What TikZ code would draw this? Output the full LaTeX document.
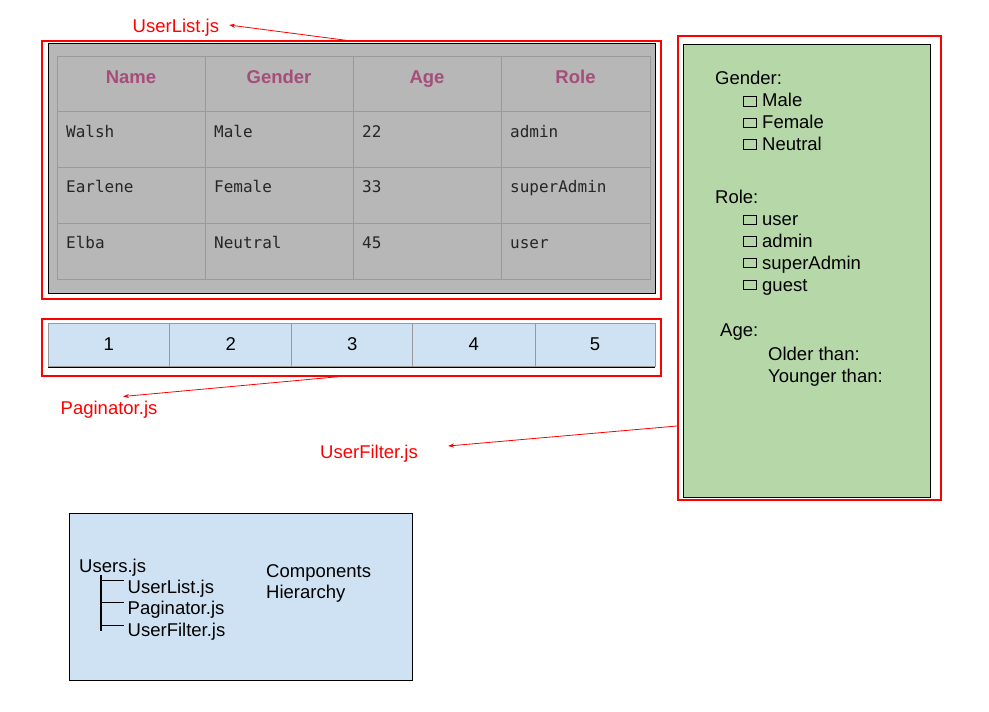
\documentclass[tikz,border=0pt]{standalone}
\usepackage{fontspec}
\setmainfont{Liberation Sans}
\newfontfamily\monof{DejaVu Sans Mono}
\usetikzlibrary{arrows.meta}
\definecolor{tblgray}{HTML}{B7B7B7}
\definecolor{gridgray}{HTML}{999999}
\definecolor{hdrcol}{HTML}{A64D79}
\definecolor{paleblue}{HTML}{CFE2F3}
\definecolor{palegreen}{HTML}{B6D7A8}
\begin{document}
\begin{tikzpicture}[x=1pt,y=-1pt,
  txt/.style={inner sep=0pt, anchor=base west, font=\fontsize{18.5}{21}\selectfont},
  hdr/.style={inner sep=0pt, anchor=base, font=\fontsize{18.5}{21}\selectfont\bfseries, text=hdrcol},
  cell/.style={inner sep=0pt, anchor=base west, font=\monof\fontsize{16}{19}\selectfont, text=black!85},
  num/.style={inner sep=0pt, anchor=base, font=\fontsize{18.5}{21}\selectfont},
  redbox/.style={draw=red, line width=2pt, inner sep=0pt, outer sep=0pt, anchor=north west},
  inbox/.style={draw=black, line width=0.8pt, inner sep=0pt, outer sep=0pt, anchor=north west},
  redlbl/.style={inner sep=0pt, anchor=base west, text=red, font=\fontsize{18.5}{21}\selectfont},
  redarrow/.style={draw=red, line width=0.8pt, -{Stealth[length=6pt,width=4pt]}},
  chk/.style={draw, line width=0.6pt, minimum width=12.5pt, minimum height=9.5pt, inner sep=0pt, anchor=south west},
  grid/.style={draw=gridgray, line width=0.8pt},
]
\useasboundingbox[fill=white] (0,0) rectangle (989,712);

% ---------- UserList table ----------
\node[redbox, minimum width=619pt, minimum height=258pt] (ulBox) at (42,41) {};
\node[inbox, fill=tblgray, minimum width=607pt, minimum height=250pt] (ulIn) at (48,43.5) {};
\draw[grid] (57,56) rectangle (650,279);
\foreach \x in {205,353,501} \draw[grid] (\x,56) -- (\x,279);
\foreach \y in {111,167,223} \draw[grid] (57,\y) -- (650,\y);

\node[hdr] (hName) at (131,83) {Name};
\node[hdr] (hGender) at (279,83) {Gender};
\node[hdr] (hAge) at (427,83) {Age};
\node[hdr] (hRole) at (575.5,83) {Role};

\node[cell] (c11) at (66,137) {Walsh};
\node[cell] (c12) at (214,137) {Male};
\node[cell] (c13) at (362,137) {22};
\node[cell] (c14) at (510,137) {admin};
\node[cell] (c21) at (66,192.5) {Earlene};
\node[cell] (c22) at (214,192.5) {Female};
\node[cell] (c23) at (362,192.5) {33};
\node[cell] (c24) at (510,192.5) {superAdmin};
\node[cell] (c31) at (66,248) {Elba};
\node[cell] (c32) at (214,248) {Neutral};
\node[cell] (c33) at (362,248) {45};
\node[cell] (c34) at (510,248) {user};

% ---------- Paginator ----------
\node[redbox, minimum width=619pt, minimum height=57pt] (pgBox) at (42,318.5) {};
\fill[paleblue] (48,323.5) rectangle (655,367);
\draw[grid] (48,323.5) rectangle (655,366);
\foreach \x in {169.7,291.7,412.7,535} \draw[grid] (\x,323.5) -- (\x,366);
\draw[black, line width=0.8pt] (48,367) -- (655,367);
\node[num] (p1) at (108.8,350) {1};
\node[num] (p2) at (230.7,350) {2};
\node[num] (p3) at (352.2,350) {3};
\node[num] (p4) at (473.8,350) {4};
\node[num] (p5) at (595,350) {5};

% ---------- UserFilter ----------
\node[redbox, minimum width=263pt, minimum height=464pt] (ufBox) at (678,35.5) {};
\node[inbox, fill=palegreen, minimum width=247pt, minimum height=453pt] (ufIn) at (683.5,44) {};
\node[txt] (fGender) at (715,84) {Gender:};
\node[chk] (bMale) at (743,106.5) {};
\node[txt] (fMale) at (762,106) {Male};
\node[chk] (bFemale) at (743,128) {};
\node[txt] (fFemale) at (762,128) {Female};
\node[chk] (bNeutral) at (743,149.5) {};
\node[txt] (fNeutral) at (762,150) {Neutral};
\node[txt] (fRole) at (715,203) {Role:};
\node[chk] (bUser) at (743,225) {};
\node[txt] (fUser) at (762,225) {user};
\node[chk] (bAdmin) at (743,246.5) {};
\node[txt] (fAdmin) at (762,247) {admin};
\node[chk] (bSuper) at (743,268) {};
\node[txt] (fSuper) at (762,269) {superAdmin};
\node[chk] (bGuest) at (743,290) {};
\node[txt] (fGuest) at (762,291) {guest};
\node[txt] (fAge) at (720,336) {Age:};
\node[txt] (fOlder) at (768,360) {Older than:};
\node[txt] (fYounger) at (768,382) {Younger than:};

% ---------- Labels and arrows ----------
\node[redlbl] (lUL) at (132.5,32) {UserList.js};
\node[redlbl] (lPG) at (60.5,414) {Paginator.js};
\node[redlbl] (lUF) at (320,458) {UserFilter.js};
\coordinate (tUL) at (229,25);
\coordinate (tPG) at (123,396.5);
\coordinate (sUF) at (677,426);
\coordinate (tUF) at (448,446);
\draw[redarrow] (ulBox.north) -- (tUL);
\draw[redarrow] (pgBox.south) -- (tPG);
\draw[redarrow] (sUF) -- (tUF);

% ---------- Hierarchy ----------
\node[inbox, fill=paleblue, minimum width=343pt, minimum height=167pt] (hBox) at (69.5,513.5) {};
\node[txt] (hUsers) at (79,572) {Users.js};
\node[txt] (hUL) at (127.5,593) {UserList.js};
\node[txt] (hPG) at (127.5,614.5) {Paginator.js};
\node[txt] (hUF) at (127.5,636) {UserFilter.js};
\node[txt] (hComp) at (266,577) {Components};
\node[txt] (hHier) at (266,598.5) {Hierarchy};
\coordinate (trTop) at (101,575);
\coordinate (trBot) at (101,631);
\draw[line width=1.6pt] (trTop) -- (trBot);
\draw[line width=0.8pt] (101,580.5) -- (123.5,580.5);
\draw[line width=0.8pt] (101,602.5) -- (123.5,602.5);
\draw[line width=0.8pt] (101,625) -- (123.5,625);
\end{tikzpicture}
\end{document}
